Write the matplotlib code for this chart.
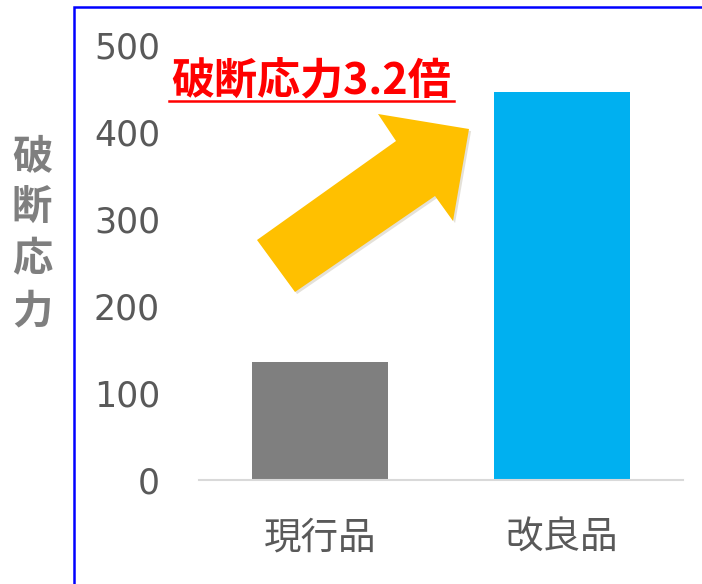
import matplotlib
matplotlib.use("Agg")
import matplotlib.pyplot as plt
from matplotlib.patches import Polygon, Rectangle
from matplotlib.lines import Line2D
import matplotlib.patheffects as pe

plt.rcParams['font.family'] = ['Noto Sans CJK JP', 'DejaVu Sans']

# data
categories = ['現行品', '改良品']
stress = [136, 446]
bar_colors = ['#7F7F7F', '#00B0F0']
yticks = [0, 100, 200, 300, 400, 500]
ylabel = '破断応力'
headline = '破断応力3.2倍'

W, H = 702, 584
fig = plt.figure(figsize=(W / 100, H / 100), dpi=100)


def fx(px):
    return px / W


def fy(py):
    return 1 - py / H


ax = fig.add_axes([fx(199), fy(480), fx(683) - fx(199), fy(45) - fy(480)])
ax.bar(range(len(categories)), stress, width=0.56, color=bar_colors, zorder=2)
ax.set_xlim(-0.5, 1.5)
ax.set_ylim(0, 500)
ax.set_yticks(yticks)
ax.set_xticks(range(len(categories)))
ax.set_xticklabels(categories)
for s in ['top', 'right', 'left']:
    ax.spines[s].set_visible(False)
ax.spines['bottom'].set_color('#D9D9D9')
ax.spines['bottom'].set_linewidth(1.5)
ax.tick_params(axis='y', length=0, pad=28, labelsize=25, labelcolor='#595959')
ax.tick_params(axis='x', length=0, pad=28, labelsize=27, labelcolor='#595959')
for lab in ax.get_yticklabels():
    lab.set_fontfamily('DejaVu Sans')

# stacked y label
for i, ch in enumerate(ylabel):
    fig.text(fx(32), fy(157 + i * 51.5), ch, ha='center', va='center',
             fontsize=29, fontweight='bold', color='#7F7F7F')

# headline with underline
fig.text(fx(311), fy(80), headline, ha='center', va='center',
         fontsize=31, fontweight='bold', color='#FF0000')
fig.add_artist(Line2D([fx(169), fx(454)], [fy(101), fy(101)],
                      color='#FF0000', linewidth=1.8,
                      transform=fig.transFigure))

# block arrow
arrow_px = [(257, 240), (396, 141), (378, 114), (469, 129),
            (453, 221), (435, 196), (295, 292)]
arrow = Polygon([(fx(x), fy(y)) for x, y in arrow_px], closed=True,
                facecolor='#FFC000', edgecolor='none',
                transform=fig.transFigure, zorder=5)
arrow.set_path_effects([pe.SimplePatchShadow(offset=(1.5, -1.5), alpha=0.15),
                        pe.Normal()])
fig.add_artist(arrow)

# blue frame
fig.add_artist(Rectangle((fx(74), -0.05), 1.2, fy(7) + 0.05,
                         fill=False, edgecolor='#0000FF', linewidth=1.8,
                         transform=fig.transFigure))

fig.savefig('out.png', dpi=100)
